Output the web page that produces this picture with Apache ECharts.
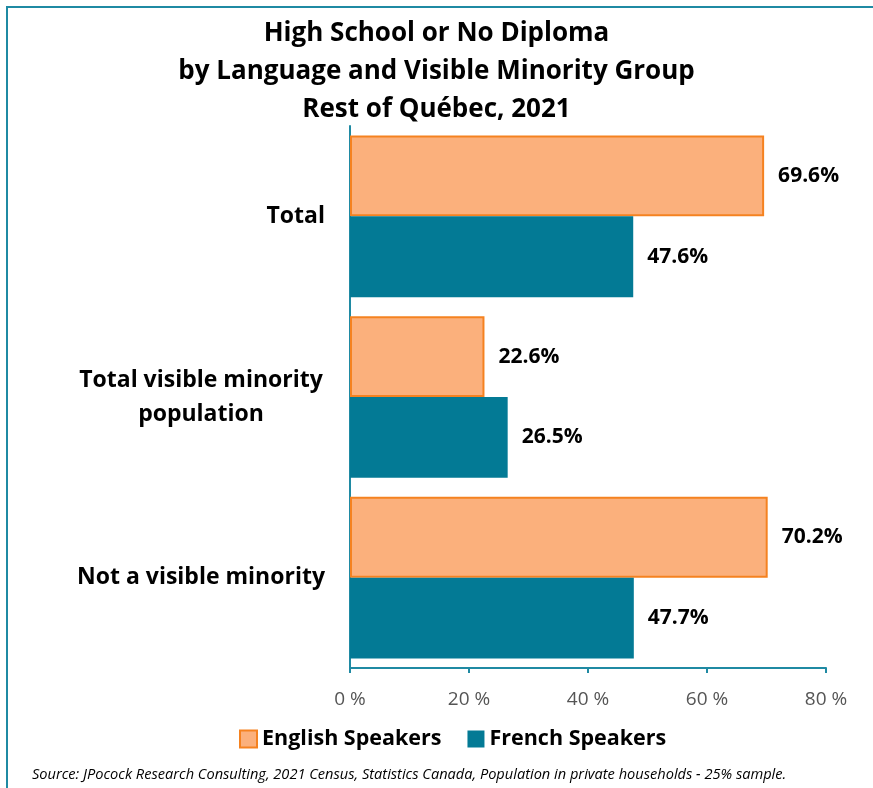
<!DOCTYPE html>
<html>
<head>
<meta charset="utf-8">
<script src="https://cdn.jsdelivr.net/npm/echarts@6/dist/echarts.min.js"></script>
<style>
  html, body { margin: 0; padding: 0; background: #fff; }
  #chart { width: 873px; height: 788px; }
  .frame { position: absolute; left: 6px; top: 6px; width: 900px; height: 800px;
           border-left: 2px solid #1f8aa3; border-top: 2px solid #1f8aa3; pointer-events: none; }
</style>
</head>
<body>
<div id="chart"></div>
<div class="frame"></div>
<script>
  const categories = ['Total', 'Total visible minority\npopulation', 'Not a visible minority'];
  const englishSpeakers = [69.6, 22.6, 70.2];
  const frenchSpeakers = [47.6, 26.5, 47.7];
  const xTicks = [0, 20, 40, 60, 80];

  const font = '"Open Sans", "Noto Sans", sans-serif';
  let myChart = echarts.init(document.getElementById('chart'));
  myChart.setOption({
    animation: false,
    title: {
      text: 'High School or No Diploma\nby Language and Visible Minority Group\nRest of Québec, 2021',
      left: 'center',
      top: 10,
      padding: [5, 5, 5, 24],
      textStyle: { fontFamily: font, fontSize: 26, fontWeight: 'bold', color: '#000', lineHeight: 38 }
    },
    grid: { left: 350, right: 47, top: 126, bottom: 120 },
    xAxis: {
      type: 'value',
      min: xTicks[0],
      max: xTicks[xTicks.length - 1],
      interval: 20,
      axisLine: { show: true, lineStyle: { color: '#1f8aa3', width: 2 } },
      axisTick: { show: true, length: 5, lineStyle: { color: '#1f8aa3', width: 2 } },
      splitLine: { show: false },
      axisLabel: { formatter: '{value} %', fontFamily: font, fontSize: 19, color: '#555', margin: 22 }
    },
    yAxis: {
      type: 'category',
      data: categories,
      inverse: true,
      axisLine: { show: true, lineStyle: { color: '#1f8aa3', width: 2 } },
      axisTick: { show: false },
      axisLabel: {
        fontFamily: font, fontSize: 23, fontWeight: 'bold', color: '#000', margin: 25, lineHeight: 34, align: 'right',
        formatter: function (v) {
          if (v.indexOf('\n') < 0) return v;
          return v.split('\n').map(function (s) { return '{c|' + s + '}'; }).join('\n');
        },
        rich: {
          c: { fontFamily: font, fontSize: 23, fontWeight: 'bold', color: '#000', width: 248, align: 'center', lineHeight: 34 }
        }
      }
    },
    legend: {
      data: ['English Speakers', 'French Speakers'],
      top: 723,
      left: 234,
      icon: 'rect',
      itemWidth: 17,
      itemHeight: 17,
      itemGap: 26,
      textStyle: { fontFamily: font, fontSize: 21.5, fontWeight: 'bold', color: '#000' }
    },
    graphic: [{
      type: 'text',
      left: 32,
      top: 767,
      style: {
        text: 'Source: JPocock Research Consulting, 2021 Census, Statistics Canada, Population in private households - 25% sample.',
        font: 'italic 14.6px ' + font,
        fill: '#000'
      }
    }],
    series: [{
      name: 'English Speakers',
      type: 'bar',
      data: englishSpeakers,
      barGap: '0%',
      barCategoryGap: '10.5%',
      itemStyle: { color: '#fbb07c', borderColor: '#f58220', borderWidth: 2 },
      label: { show: true, position: 'right', distance: 14, formatter: '{c}%', fontFamily: font, fontSize: 21, fontWeight: 'bold', color: '#000' }
    }, {
      name: 'French Speakers',
      type: 'bar',
      data: frenchSpeakers,
      itemStyle: { color: '#037a95' },
      label: { show: true, position: 'right', distance: 14, formatter: '{c}%', fontFamily: font, fontSize: 21, fontWeight: 'bold', color: '#000' }
    }]
  });
</script>
</body>
</html>
